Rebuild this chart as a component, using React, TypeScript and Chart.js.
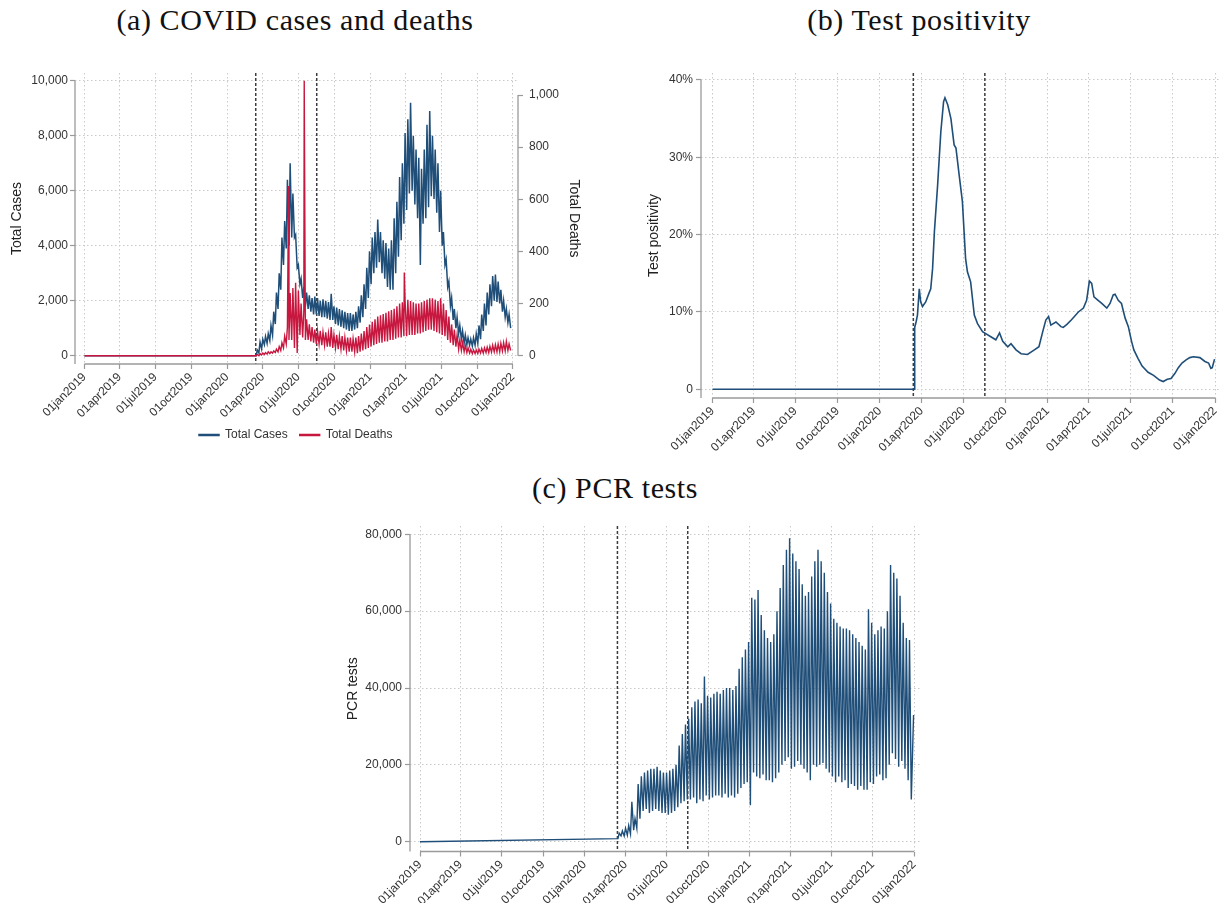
import React, { useEffect, useRef } from "react";
import { Chart, registerables } from "chart.js";

Chart.register(...registerables);

const FONT = "'Liberation Sans', Arial, Helvetica, sans-serif";
const SERIF = "'Liberation Serif', 'Times New Roman', serif";
Chart.defaults.font.family = FONT;

// ---------- axis ticks ----------
const X_TICK_DATES = [
  "2019-01-01", "2019-04-01", "2019-07-01", "2019-10-01",
  "2020-01-01", "2020-04-01", "2020-07-01", "2020-10-01",
  "2021-01-01", "2021-04-01", "2021-07-01", "2021-10-01", "2022-01-01",
];
const X_TICK_LABELS = [
  "01jan2019", "01apr2019", "01jul2019", "01oct2019",
  "01jan2020", "01apr2020", "01jul2020", "01oct2020",
  "01jan2021", "01apr2021", "01jul2021", "01oct2021", "01jan2022",
];
const CASES_TICKS = [0, 2000, 4000, 6000, 8000, 10000];
const DEATHS_TICKS = [0, 200, 400, 600, 800, 1000];
const POS_TICKS = [0, 10, 20, 30, 40];
const TESTS_TICKS = [0, 20000, 40000, 60000, 80000];

// dashed reference lines
const EVENT_DATES = ["2020-03-14", "2020-08-17"];

// ---------- data ----------
// before the epidemic (flat)
const PRE_DATES = ["2019-01-01", "2020-03-15"];
const CASES_PRE = [0, 0];
const DEATHS_PRE = [0, 0];
const TESTS_PRE = [0, 800];

// weekly highs / lows of the daily series, weeks starting Monday 16 Mar 2020
const WEEK0 = "2020-03-16";
const CASES_HIGH = [
  200, 500, 600, 700, 800, 1100, 1600, 2300, 3000, 4300,
  4900, 6400, 7000, 5900, 4400, 3300, 2800, 2500, 2300, 2200,
  2100, 2150, 2100, 2000, 2050, 2000, 1950, 2250, 1800, 1750,
  1700, 1650, 1600, 1550, 1550, 1500, 1600, 1800, 2200, 2600,
  3200, 3800, 4300, 4500, 4950, 4500, 4200, 4100, 3900, 4200,
  5000, 5600, 6500, 7000, 8100, 8600, 9200, 8000, 7500, 7200,
  6800, 7500, 8400, 8900, 8000, 7500, 7000, 6000, 4500, 3500,
  2700, 2100, 1700, 1400, 1100, 900, 750, 650, 600, 650,
  800, 1100, 1500, 1900, 2300, 2600, 2900, 2950, 2700, 2400,
  2000, 1700, 1500,
];
const CASES_LOW = [
  100, 250, 400, 450, 550, 750, 1150, 1700, 2400, 3300,
  3900, 4000, 4300, 4300, 3200, 2600, 2100, 1800, 1700, 1600,
  1500, 1500, 1450, 1400, 1400, 1350, 1300, 1300, 1150, 1100,
  1050, 1000, 950, 900, 900, 950, 1000, 1200, 1400, 1700,
  2100, 2600, 3000, 3200, 3400, 3000, 2800, 2500, 2400, 2400,
  3000, 3600, 4200, 4800, 5300, 5900, 6000, 5500, 5000, 3300,
  4800, 5000, 5400, 5800, 5700, 5200, 4500, 4000, 3300, 2500,
  1800, 1300, 1000, 800, 600, 450, 400, 380, 350, 380,
  450, 600, 900, 1100, 1500, 1800, 2000, 1950, 1900, 1600,
  1400, 1200, 1000,
];
const DEATHS_HIGH = [
  5, 8, 10, 12, 15, 15, 18, 25, 35, 50,
  75, 110, 240, 260, 280, 250, 200, 170, 140, 120,
  110, 100, 95, 95, 90, 90, 85, 110, 80, 80,
  75, 75, 70, 70, 70, 65, 70, 75, 85, 95,
  110, 120, 130, 140, 150, 155, 160, 165, 170, 175,
  180, 190, 200, 205, 210, 215, 210, 205, 200, 200,
  205, 210, 215, 220, 220, 215, 210, 220, 200, 175,
  150, 120, 100, 80, 60, 50, 40, 30, 25, 22,
  22, 25, 28, 30, 33, 36, 40, 42, 45, 48,
  50, 55, 45,
];
const DEATHS_LOW = [
  0, 3, 5, 6, 8, 10, 12, 15, 20, 30,
  45, 60, 60, 30, 10, 80, 70, 60, 60, 55,
  50, 45, 45, 40, 40, 35, 35, 30, 30, 25,
  25, 20, 20, 15, 15, 15, 10, 15, 20, 25,
  30, 35, 40, 45, 50, 50, 55, 55, 60, 60,
  65, 70, 70, 75, 75, 80, 80, 80, 85, 85,
  90, 95, 100, 100, 95, 90, 85, 80, 75, 60,
  50, 40, 35, 25, 20, 15, 12, 10, 8, 8,
  8, 10, 10, 12, 12, 14, 15, 15, 15, 18,
  18, 20, 20,
];
const DEATH_SPIKE_DATES = ["2020-06-06", "2020-07-16", "2021-03-29"];
const DEATH_SPIKE_VALUES = [651, 1055, 319];

const TESTS_HIGH = [
  2200, 2800, 3500, 4200, 10400, 6000, 15000, 17000, 18000, 18500,
  19000, 19000, 19500, 18500, 18000, 18000, 18500, 19000, 20000, 25000,
  28000, 30500, 32000, 35000, 36500, 37000, 36000, 43000, 38000, 37500,
  38500, 39000, 38500, 39500, 40000, 40000, 39500, 40500, 45000, 48000,
  50000, 52000, 63500, 63000, 65500, 59000, 55000, 53000, 52000, 54000,
  60000, 66000, 72000, 76000, 79000, 75000, 73000, 71000, 67000, 64000,
  65000, 69000, 73000, 76000, 73000, 70000, 65000, 62000, 58000, 57000,
  56000, 55500, 55500, 55000, 54000, 53000, 52000, 51000, 50000, 60500,
  57000, 54000, 55000, 56000, 55500, 60000, 72000, 70000, 68500, 64000,
  57000, 53000, 52500,
];
const TESTS_LOW = [
  1500, 1500, 1700, 2000, 3000, 3500, 6000, 8000, 8500, 7500,
  8000, 8500, 8000, 7500, 7500, 7000, 7500, 8000, 9000, 10000,
  10500, 11000, 11000, 11500, 10000, 11000, 10500, 12000, 11000, 11500,
  12000, 12000, 11500, 12500, 11500, 12000, 11500, 12500, 14000, 15000,
  15500, 9500, 18000, 17000, 16500, 17500, 16000, 16000, 15500, 16500,
  18000, 20000, 21000, 22000, 19000, 19500, 21000, 20000, 19000, 18000,
  16000, 20000, 19500, 20000, 20500, 19000, 18000, 17000, 15500, 17000,
  15500, 16000, 14000, 15000, 14500, 13500, 14500, 13500, 13500, 15500,
  15000, 17000, 17500, 16000, 16500, 20000, 23000, 21500, 19500, 21000,
  19000, 16000, 11000,
];
const TESTS_END_DATES = ["2021-12-31"];
const TESTS_END_VALUES = [33000];

// test positivity (7-day, %)
const POS_DATES = [
  "2019-01-01", "2020-03-16", "2020-03-17", "2020-03-20", "2020-03-23", "2020-03-27", "2020-03-30",
  "2020-04-03", "2020-04-10", "2020-04-17", "2020-04-21", "2020-04-25", "2020-04-29", "2020-05-06",
  "2020-05-13", "2020-05-19", "2020-05-22", "2020-05-28", "2020-06-04", "2020-06-11", "2020-06-15",
  "2020-06-22", "2020-06-29", "2020-07-06", "2020-07-10", "2020-07-17", "2020-07-25", "2020-08-01",
  "2020-08-12", "2020-08-19", "2020-08-30", "2020-09-10", "2020-09-18", "2020-09-25", "2020-10-06",
  "2020-10-13", "2020-10-24", "2020-11-04", "2020-11-18", "2020-12-03", "2020-12-13", "2020-12-21",
  "2020-12-28", "2021-01-03", "2021-01-08", "2021-01-19", "2021-01-30", "2021-02-04", "2021-02-12",
  "2021-02-22", "2021-03-09", "2021-03-20", "2021-03-27", "2021-04-02", "2021-04-07", "2021-04-12",
  "2021-04-21", "2021-04-29", "2021-05-10", "2021-05-17", "2021-05-24", "2021-05-28", "2021-06-04",
  "2021-06-11", "2021-06-19", "2021-06-26", "2021-07-03", "2021-07-08", "2021-07-17", "2021-07-26",
  "2021-08-08", "2021-08-20", "2021-09-02", "2021-09-10", "2021-09-19", "2021-09-27", "2021-10-05",
  "2021-10-13", "2021-10-21", "2021-10-30", "2021-11-07", "2021-11-15", "2021-11-29", "2021-12-10",
  "2021-12-18", "2021-12-23", "2021-12-26", "2021-12-31",
];
const POS_VALUES = [
  0, 0, 8.0, 8.7, 9.6, 13.0, 11.3,
  10.7, 11.3, 12.4, 13.0, 15.6, 20.4, 26.4,
  33.3, 37.2, 37.7, 36.8, 35.0, 31.6, 31.2,
  27.7, 24.3, 16.9, 15.2, 13.9, 9.6, 8.5,
  7.45, 7.2, 6.8, 6.4, 7.3, 6.2, 5.5,
  5.9, 5.1, 4.6, 4.5, 5.1, 5.5, 7.4,
  8.95, 9.4, 8.3, 8.7, 8.1, 8.0, 8.4,
  9.0, 10.0, 10.5, 11.5, 14.0, 13.7, 11.95,
  11.5, 11.1, 10.5, 11.1, 12.2, 12.3, 11.5,
  11.1, 9.2, 8.1, 6.2, 5.1, 4.0, 3.0,
  2.2, 1.8, 1.2, 1.0, 1.3, 1.4, 2.0,
  2.8, 3.4, 3.8, 4.1, 4.2, 4.1, 3.6,
  3.4, 2.7, 2.8, 3.9,
];

// ---------- styling ----------
const BLUE = "#1f4e79";
const RED = "#c8173f";
const GRID = "#c9c9c9";
const AXIS = "#9a9a9a";
const TEXT = "#333333";

// ---------- helpers ----------
function dayIndex(s: string): number {
  const [y, m, d] = s.split("-").map(Number);
  return Math.round((Date.UTC(y, m - 1, d) - Date.UTC(2019, 0, 1)) / 86400000);
}
type Pt = { x: number; y: number };
function pairs(dates: string[], values: number[]): Pt[] {
  return dates.map((d, i) => ({ x: dayIndex(d), y: values[i] }));
}
function weekly(high: number[], low: number[]): Pt[] {
  const s = dayIndex(WEEK0);
  const pts: Pt[] = [];
  high.forEach((h, k) => {
    pts.push({ x: s + 7 * k + 2, y: h });
    pts.push({ x: s + 7 * k + 6, y: low[k] });
  });
  return pts;
}
function merge(...parts: Pt[][]): Pt[] {
  return ([] as Pt[]).concat(...parts).sort((a, b) => a.x - b.x);
}

const stataPlugin = {
  id: "stata",
  beforeDatasetsDraw(chart: any) {
    const { ctx, chartArea: ca, scales } = chart;
    ctx.save();
    ctx.strokeStyle = "#3c3c3c";
    ctx.lineWidth = 1.5;
    ctx.setLineDash([3, 2]);
    for (const d of EVENT_DATES) {
      const px = scales.x.getPixelForValue(dayIndex(d));
      ctx.beginPath();
      ctx.moveTo(px, ca.top);
      ctx.lineTo(px, ca.bottom);
      ctx.stroke();
    }
    ctx.restore();
  },
  afterDraw(chart: any, _a: any, opts: any) {
    const { ctx, chartArea: ca, scales } = chart;
    const x = scales.x;
    const y = scales.y;
    const xt = x.ticks;
    const yt = y.ticks;
    ctx.save();
    ctx.strokeStyle = AXIS;
    ctx.lineWidth = 1.3;
    ctx.setLineDash([]);
    ctx.beginPath();
    ctx.moveTo(ca.left, y.getPixelForValue(yt[yt.length - 1].value));
    ctx.lineTo(ca.left, ca.bottom);
    ctx.moveTo(x.getPixelForValue(xt[0].value), ca.bottom);
    ctx.lineTo(x.getPixelForValue(xt[xt.length - 1].value), ca.bottom);
    if (opts && opts.right) {
      const r = scales[opts.right];
      const rt = r.ticks;
      ctx.moveTo(ca.right, r.getPixelForValue(rt[rt.length - 1].value));
      ctx.lineTo(ca.right, r.getPixelForValue(rt[0].value));
    }
    ctx.stroke();
    ctx.restore();
  },
};

function xScale(min: number, max: number, height: number) {
  return {
    type: "linear",
    min,
    max,
    afterBuildTicks: (s: any) => {
      s.ticks = X_TICK_DATES.map((d) => ({ value: dayIndex(d) }));
    },
    afterFit: (s: any) => {
      s.height = height;
      s.paddingLeft = 0;
      s.paddingRight = 0;
    },
    ticks: {
      autoSkip: false,
      minRotation: 45,
      maxRotation: 45,
      padding: 1,
      color: TEXT,
      font: { size: 12 },
      callback: (_v: any, i: number) => X_TICK_LABELS[i],
    },
    grid: {
      display: true,
      drawOnChartArea: true,
      color: GRID,
      lineWidth: 1,
      drawTicks: true,
      tickLength: 5,
      tickColor: AXIS,
      tickWidth: 1.2,
    },
    border: { display: false, dash: [1.5, 2.5] },
  };
}

function yScale(o: {
  min: number; max: number; ticks: number[]; fmt: (v: number) => string; title: string;
  width: number; position: string; grid: boolean; padding: number;
}) {
  return {
    type: "linear",
    position: o.position,
    min: o.min,
    max: o.max,
    afterBuildTicks: (s: any) => {
      s.ticks = o.ticks.map((v) => ({ value: v }));
    },
    afterFit: (s: any) => {
      s.width = o.width;
      s.paddingTop = 0;
      s.paddingBottom = 0;
    },
    ticks: { padding: o.padding, color: TEXT, font: { size: 12 }, callback: (v: any) => o.fmt(Number(v)) },
    grid: {
      drawOnChartArea: o.grid,
      color: GRID,
      lineWidth: 1,
      drawTicks: true,
      tickLength: 5,
      tickColor: AXIS,
      tickWidth: 1.2,
    },
    border: { display: false, dash: [1.5, 2.5] },
    title: { display: true, text: o.title, color: "#222", font: { size: 14 }, padding: { top: 4, bottom: 4 } },
  };
}

const comma = (v: number) => v.toLocaleString("en-US");

function configA(): any {
  return {
    type: "line",
    data: {
      datasets: [
        {
          label: "Total Cases",
          data: merge(pairs(PRE_DATES, CASES_PRE), weekly(CASES_HIGH, CASES_LOW)),
          borderColor: BLUE,
          backgroundColor: BLUE,
          borderWidth: 1.5,
          pointRadius: 0,
          yAxisID: "y",
          order: 1,
        },
        {
          label: "Total Deaths",
          data: merge(
            pairs(PRE_DATES, DEATHS_PRE),
            weekly(DEATHS_HIGH, DEATHS_LOW),
            pairs(DEATH_SPIKE_DATES, DEATH_SPIKE_VALUES)
          ),
          borderColor: RED,
          backgroundColor: RED,
          borderWidth: 1.4,
          pointRadius: 0,
          yAxisID: "y2",
          order: 0,
        },
      ],
    },
    options: {
      responsive: false,
      animation: false,
      events: [],
      layout: { padding: { left: 5, right: 13.6, top: 13, bottom: 9 } },
      scales: {
        x: xScale(-24.3, 1108.8, 53),
        y: yScale({
          min: -302, max: 10280, ticks: CASES_TICKS, fmt: comma, title: "Total Cases",
          width: 70, position: "left", grid: true, padding: 2,
        }),
        y2: yScale({
          min: -31.8, max: 1084.4, ticks: DEATHS_TICKS, fmt: comma, title: "Total Deaths",
          width: 68.4, position: "right", grid: false, padding: 6,
        }),
      },
      plugins: {
        tooltip: { enabled: false },
        stata: { right: "y2" },
        legend: {
          display: true,
          position: "bottom",
          labels: {
            boxWidth: 20,
            boxHeight: 1,
            padding: 12,
            color: TEXT,
            font: { size: 12 },
            sort: (a: any, b: any) => a.datasetIndex - b.datasetIndex,
          },
        },
      },
    },
    plugins: [stataPlugin],
  };
}

function configB(): any {
  return {
    type: "line",
    data: {
      datasets: [
        {
          label: "Test positivity",
          data: pairs(POS_DATES, POS_VALUES),
          borderColor: BLUE,
          backgroundColor: BLUE,
          borderWidth: 1.6,
          pointRadius: 0,
        },
      ],
    },
    options: {
      responsive: false,
      animation: false,
      events: [],
      layout: { padding: { left: 21.6, right: 2, top: 13, bottom: 0 } },
      scales: {
        x: xScale(-25.1, 1106.9, 62),
        y: yScale({
          min: -1.125, max: 40.9, ticks: POS_TICKS, fmt: (v) => (v === 0 ? "0" : v + "%"),
          title: "Test positivity", width: 59.4, position: "left", grid: true, padding: 3,
        }),
      },
      plugins: { tooltip: { enabled: false }, legend: { display: false }, stata: {} },
    },
    plugins: [stataPlugin],
  };
}

function configC(): any {
  return {
    type: "line",
    data: {
      datasets: [
        {
          label: "PCR tests",
          data: merge(pairs(PRE_DATES, TESTS_PRE), weekly(TESTS_HIGH, TESTS_LOW), pairs(TESTS_END_DATES, TESTS_END_VALUES)),
          borderColor: BLUE,
          backgroundColor: BLUE,
          borderWidth: 1.4,
          pointRadius: 0,
        },
      ],
    },
    options: {
      responsive: false,
      animation: false,
      events: [],
      layout: { padding: { left: 10.6, right: 10, top: 11, bottom: 0 } },
      scales: {
        x: xScale(-22.2, 1109.3, 51.5),
        y: yScale({
          min: -2550, max: 82160, ticks: TESTS_TICKS, fmt: comma, title: "PCR tests",
          width: 69.4, position: "left", grid: true, padding: 3,
        }),
      },
      plugins: { tooltip: { enabled: false }, legend: { display: false }, stata: {} },
    },
    plugins: [stataPlugin],
  };
}

function Title({ text, cx, top }: { text: string; cx: number; top: number }) {
  return (
    <div
      style={{
        position: "absolute",
        left: cx - 300,
        top,
        width: 600,
        textAlign: "center",
        fontFamily: SERIF,
        fontSize: 30,
        lineHeight: "36px",
        letterSpacing: "0.6px",
        color: "#111",
        whiteSpace: "nowrap",
      }}
    >
      {text}
    </div>
  );
}

export default function App() {
  const refA = useRef<HTMLCanvasElement>(null);
  const refB = useRef<HTMLCanvasElement>(null);
  const refC = useRef<HTMLCanvasElement>(null);

  useEffect(() => {
    const charts = [
      new Chart(refA.current as HTMLCanvasElement, configA()),
      new Chart(refB.current as HTMLCanvasElement, configB()),
      new Chart(refC.current as HTMLCanvasElement, configC()),
    ];
    return () => charts.forEach((c) => c.destroy());
  }, []);

  return (
    <div
      style={{
        position: "absolute",
        left: 0,
        top: 0,
        width: 1222,
        height: 903,
        background: "#ffffff",
        overflow: "hidden",
      }}
    >
      <Title text="(a) COVID cases and deaths" cx={295} top={2} />
      <Title text="(b) Test positivity" cx={919} top={2} />
      <Title text="(c) PCR tests" cx={615} top={470} />
      <canvas ref={refA} width={600} height={400} style={{ position: "absolute", left: 0, top: 60 }} />
      <canvas ref={refB} width={602} height={400} style={{ position: "absolute", left: 620, top: 60 }} />
      <canvas ref={refC} width={600} height={388} style={{ position: "absolute", left: 330, top: 515 }} />
    </div>
  );
}
